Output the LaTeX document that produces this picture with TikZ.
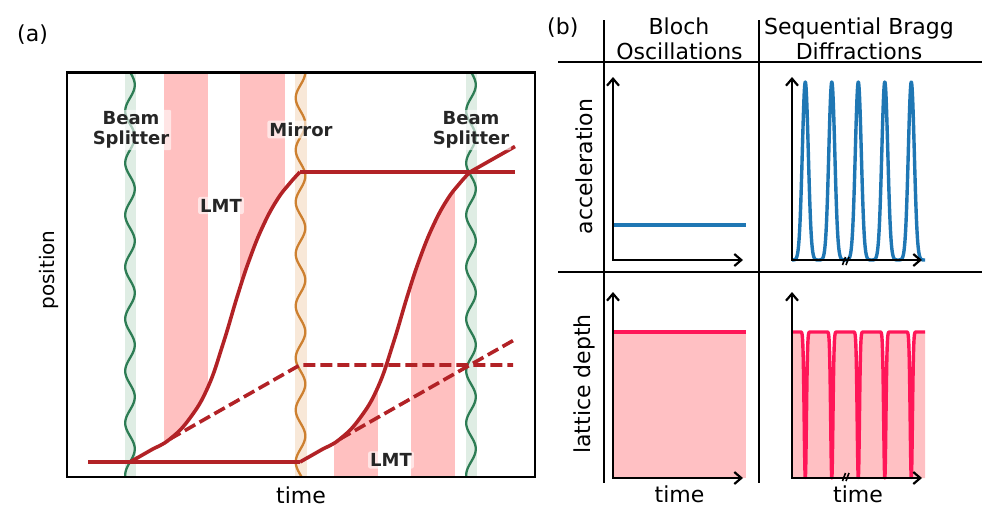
\documentclass[tikz,border=0pt]{standalone}
\usepackage{fontspec}
\setmainfont{DejaVu Sans}
\usetikzlibrary{arrows.meta}
\definecolor{trajred}{HTML}{B22226}
\definecolor{bandpink}{HTML}{FFC0C0}
\definecolor{wgreen}{HTML}{2E7D55}
\definecolor{wgreenband}{HTML}{DFEDE4}
\definecolor{worange}{HTML}{CD8030}
\definecolor{worangeband}{HTML}{F8E8D8}
\definecolor{mplblue}{HTML}{1F77B4}
\definecolor{crim}{HTML}{FF1658}
\definecolor{fillpink}{HTML}{FFC0C3}
\definecolor{labgray}{HTML}{262626}
\newcommand\withup[1]{#1 plot[smooth,tension=0.75] coordinates {(130,462) (150,450.6) (170,439) (190,418) (208,387) (223,344) (238,294) (250,258) (263,226) (277,200) (290,183) (300,172)}}
\begin{document}
\begin{tikzpicture}[x=1pt,y=-1pt,
  declare function={pk(\t)=exp(max(-((Mod(\t+13.25,26.5)-13.25)^2)/18,-10));
                    dp(\t)=exp(max(-((Mod(\t+13.25,26.5)-13.25)^2)/2.5,-10));},
  lab/.style={font=\fontsize{22}{26}\selectfont, inner sep=0pt},
  blab/.style={font=\fontsize{18}{19.5}\selectfont\bfseries, text=labgray, fill=white,
               fill opacity=0.6, text opacity=1, rounded corners=2pt, inner sep=2pt, align=center},
  traj/.style={draw=trajred, line width=3.6pt, line join=round},
  trajd/.style={traj, dash pattern=on 12pt off 5pt},
  wave/.style={line width=2.3pt},
  frame/.style={draw=black, line width=2.2pt},
  gridl/.style={draw=black, line width=2.2pt},
  axis/.style={draw=black, line width=2.2pt, line join=miter, {Straight Barb[length=7pt,width=12pt]}-{Straight Barb[length=7pt,width=12pt]}},
  brk/.style={draw=black, line width=1.6pt},
  bluel/.style={draw=mplblue, line width=3.4pt, line join=round},
  crimline/.style={draw=crim, line width=3.4pt, line join=round}]
\useasboundingbox (0,0) rectangle (997,523);

% ---------------- panel (a) ----------------
\node[lab, anchor=base west] (la) at (17,41) {(a)};
% LMT bands above first arm
\begin{scope}
  \withup{\clip} -- (300,72) -- (130,72) -- cycle;
  \fill[bandpink] (164,72) rectangle (208,477);
  \fill[bandpink] (240,72) rectangle (285,477);
\end{scope}
% LMT bands below second arm
\begin{scope}[shift={(170,0)}]
  \withup{\clip} -- (300,477) -- (130,477) -- cycle;
  \fill[bandpink] (164,72) rectangle (208,477);
  \fill[bandpink] (241,72) rectangle (285,477);
\end{scope}
% wave bands
\fill[wgreenband] (124.5,72) rectangle (135.5,477);
\fill[worangeband] (294.5,72) rectangle (306.5,477);
\fill[wgreenband] (465.5,72) rectangle (476.5,477);
% waves
\draw[wave, wgreen] plot[domain=72:477, samples=180] ({130+4.8*sin(6.9231*(\x-72))}, \x);
\draw[wave, worange] plot[domain=72:477, samples=180] ({300.5+4.8*sin(6.9231*(\x-72)+90)}, \x);
\draw[wave, wgreen] plot[domain=72:477, samples=180] ({471+4.8*sin(6.9231*(\x-72))}, \x);

% key points
\coordinate (bs1) at (130,462);
\coordinate (mlow) at (300,462);
\coordinate (mup) at (300,172);
\coordinate (bs2) at (470,172);
\coordinate (start) at (88,462);
\coordinate (d1s) at (170,439);
\coordinate (d1m) at (300,365);
\coordinate (d1e) at (513,365);
\coordinate (d2s) at (340,439);
\coordinate (d2b) at (470,365);
\coordinate (d2e) at (513,340.6);
\coordinate (upe) at (515,172);
\coordinate (c2e) at (515,146.5);

% trajectories
\draw[trajd] (d1s) -- (d1m) -- (d1e);
\draw[trajd] (d2s) -- (d2b) -- (d2e);
\draw[traj] (start) -- (bs1) -- (mlow);
\withup{\draw[traj]};
\draw[traj] (mup) -- (upe);
\begin{scope}[shift={(170,0)}]
  \withup{\draw[traj]};
\end{scope}
\draw[traj] (bs2) -- (c2e);

% labels
\node[blab] (bsl1) at (131,130) {Beam\\Splitter};
\node[blab] (mirl) at (301,129.5) {Mirror};
\node[blab] (bsl2) at (471,130) {Beam\\Splitter};
\node[blab] (lmt1) at (221,205.5) {LMT};
\node[blab] (lmt2) at (391,460) {LMT};

% frame
\draw[frame] (67,72.5) rectangle (535,477);
\node[lab, anchor=base] (ta) at (301,503) {time};
\node[lab, anchor=base, rotate=90, font=\fontsize{20}{24}\selectfont] (pa) at (54,270) {position};

% ---------------- panel (b) ----------------
\node[lab, anchor=base west] (lb) at (547,34) {(b)};
\node[lab, anchor=base] (h1a) at (679,34) {Bloch};
\node[lab, anchor=base] (h1b) at (679.5,59) {Oscillations};
\node[lab, anchor=base] (h2a) at (859,34) {Sequential Bragg};
\node[lab, anchor=base] (h2b) at (859,59) {Diffractions};
\node[lab, anchor=base, rotate=90] (r1) at (592,166.5) {acceleration};
\node[lab, anchor=base, rotate=90] (r2) at (590,384) {lattice depth};
\node[lab, anchor=base] (tb1) at (679.5,502) {time};
\node[lab, anchor=base] (tb2) at (858,502) {time};

% grid
\draw[gridl] (558,62) -- (982,62);
\draw[gridl] (558,272) -- (982,272);
\draw[gridl] (604,20) -- (604,483);
\draw[gridl] (759,20) -- (759,483);

% top-left: constant acceleration
\draw[bluel] (613,225) -- (746,225);
% top-right: pulses
\draw[bluel] plot[domain=792:925, samples=500] (\x, {260-178*pk(\x-805.3)});
% bottom-left: constant depth
\fill[fillpink] (613,332) rectangle (746,478);
\draw[crimline] (613,332) -- (746,332);
% bottom-right: depth with dips
\fill[fillpink] (792,478) -- plot[domain=792:925, samples=666] (\x, {332+146*dp(\x-805.3)}) -- (925,478) -- cycle;
\draw[crimline] plot[domain=792:925, samples=666] (\x, {332+146*dp(\x-805.3)});

% axes
\coordinate (o1) at (613,260); \coordinate (y1) at (613,77); \coordinate (x1) at (743,260);
\coordinate (o2) at (792,260); \coordinate (y2) at (792,77); \coordinate (x2) at (922,260);
\coordinate (o3) at (613,478); \coordinate (y3) at (613,292); \coordinate (x3) at (743,478);
\coordinate (o4) at (792,478); \coordinate (y4) at (792,292); \coordinate (x4) at (922,478);
\draw[axis] (y1) -- (o1) -- (x1);
\draw[axis] (y2) -- (o2) -- (x2);
\draw[axis] (y3) -- (o3) -- (x3);
\draw[axis] (y4) -- (o4) -- (x4);
% axis breaks
\draw[brk] (842.5,265) -- (845.5,257) (846,265) -- (849,257);
\draw[brk] (842.5,481) -- (845.5,473) (846,481) -- (849,473);
\end{tikzpicture}
\end{document}
